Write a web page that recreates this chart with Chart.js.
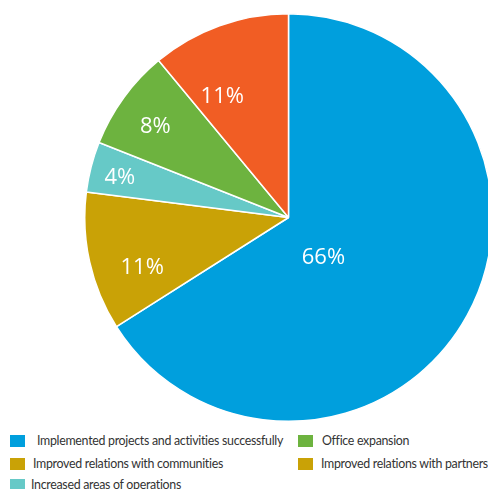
<!DOCTYPE html>
<html>
<head>
<meta charset="utf-8">
<script src="https://cdn.jsdelivr.net/npm/chart.js@4/dist/chart.umd.min.js"></script>
<style>
  html, body { margin: 0; padding: 0; background: #fff; width: 488px; height: 489px; overflow: hidden; }
  #wrap { position: absolute; left: 83.5px; top: 13px; width: 409px; height: 409px; }
  .lg { position: absolute; font-family: Lato, "Open Sans", sans-serif; font-size: 12.4px; letter-spacing: -0.3px; color: #333; white-space: nowrap; line-height: 15px; }
  .sw { position: absolute; width: 15px; height: 12px; }
</style>
</head>
<body>
<div id="wrap"><canvas id="c" width="409" height="409"></canvas></div>
<div id="legend"></div>
<script>
// ---- data ----
const categories = ["Implemented projects and activities successfully", "Improved relations with communities", "Increased areas of operations", "Office expansion", "Improved relations with partners"];
const values = [66, 11, 4, 8, 11];
const colors = ["#009FDD", "#C9A206", "#66C9C7", "#6DB33F", "#F15D24"];

// legend as printed in the reference
const legendLabels = ["Implemented projects and activities successfully", "Office expansion", "Improved relations with communities", "Improved relations with partners", "Increased areas of operations"];
const legendColors = ["#009FDD", "#6DB33F", "#C9A206", "#C9A206", "#66C9C7"];

// ---- styling (label placement / legend layout) ----
const labelRadius = [0.26, 0.76, 0.85, 0.79, 0.675];
const labelAngleShift = [20, -6.5, -1.2, -1.8, -9];
const legendLayout = [
  {sx: 10, sy: 435, tx: 37},
  {sx: 298, sy: 435, tx: 322},
  {sx: 10, sy: 458, tx: 33},
  {sx: 298, sy: 458, tx: 321},
  {sx: 10, sy: 479, tx: 31}
];

const labelPlugin = {
  id: 'sliceLabels',
  afterDatasetsDraw(chart) {
    const ctx = chart.ctx;
    const meta = chart.getDatasetMeta(0);
    const total = values.reduce((a, b) => a + b, 0);
    ctx.save();
    ctx.fillStyle = '#fff';
    ctx.font = '400 22px "Open Sans", Lato, sans-serif';
    ctx.textAlign = 'center';
    ctx.textBaseline = 'middle';
    meta.data.forEach((arc, i) => {
      const p = arc.getProps(['x', 'y', 'startAngle', 'endAngle', 'outerRadius'], true);
      const mid = (p.startAngle + p.endAngle) / 2 + labelAngleShift[i] * Math.PI / 180;
      const r = p.outerRadius * labelRadius[i];
      const pct = Math.round(values[i] / total * 100) + '%';
      ctx.fillText(pct, p.x + r * Math.cos(mid), p.y + r * Math.sin(mid));
    });
    ctx.restore();
  }
};

new Chart(document.getElementById('c'), {
  type: 'pie',
  data: {
    labels: categories,
    datasets: [{
      data: values,
      backgroundColor: colors,
      borderColor: '#ffffff',
      borderWidth: 1.5
    }]
  },
  options: {
    responsive: false,
    animation: false,
    layout: { padding: 0 },
    plugins: { legend: { display: false }, tooltip: { enabled: false } }
  },
  plugins: [labelPlugin]
});

// legend
const lg = document.getElementById('legend');
legendLabels.forEach((t, i) => {
  const L = legendLayout[i];
  const sw = document.createElement('div');
  sw.className = 'sw';
  sw.style.left = L.sx + 'px';
  sw.style.top = L.sy + 'px';
  sw.style.background = legendColors[i];
  lg.appendChild(sw);
  const tx = document.createElement('div');
  tx.className = 'lg';
  tx.style.left = L.tx + 'px';
  tx.style.top = (L.sy - 2) + 'px';
  tx.textContent = t;
  lg.appendChild(tx);
});
</script>
</body>
</html>
